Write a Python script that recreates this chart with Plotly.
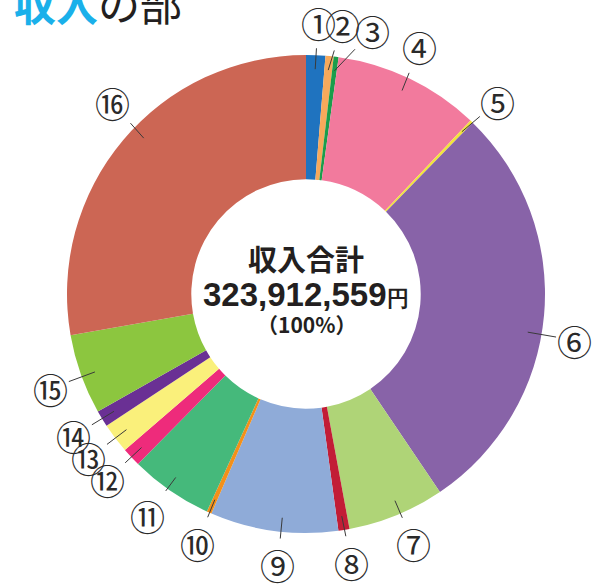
import math
import plotly.graph_objects as go

# ---- data ----
labels = ["①", "②", "③", "④", "⑤", "⑥", "⑦", "⑧",
          "⑨", "⑩", "⑪", "⑫", "⑬", "⑭", "⑮", "⑯"]
shares = [1.30, 0.55, 0.33, 9.90, 0.20, 28.25, 6.55, 0.75,
          8.64, 0.33, 5.60, 1.28, 2.03, 1.11, 5.42, 27.75]
total_text = "323,912,559"

# ---- styles ----
colors = ["#1f73bf", "#f6a95b", "#1a9d4b", "#f27a9d", "#f2e43c", "#8863a8",
          "#afd477", "#c21d36", "#8fabd8", "#f39019", "#45b97b", "#ee2b7b",
          "#faf07b", "#6a3094", "#8cc63f", "#cc6654"]
label_nudge = [0.2, 2.0, 7.0, -1.0, 1.0, 4.7, -1.0, -0.4,
               -1.8, -0.3, 1.0, 0.0, 0.0, 0.0, -0.6, 4.6]
tail_nudge = [0, 0, 0, -0.4, 0, 4.7, -1.0, 0,
              -1.7, 0, 0.8, 0, 0, 0, -0.6, 3.8]

W, H = 604, 584
cx, cy, R = 306, 294, 239
r_tail, r_lab = 225, 272
FONT = "Noto Sans CJK JP"
DARK = "#231f20"

fig = go.Figure(go.Pie(
    values=shares, labels=labels, sort=False, direction="clockwise",
    rotation=0, hole=0.48, textinfo="none", hoverinfo="label+percent",
    marker=dict(colors=colors, line=dict(width=0)),
    domain=dict(x=[(cx - R) / W, (cx + R) / W],
                y=[1 - (cy + R) / H, 1 - (cy - R) / H]),
    showlegend=False,
))

total = sum(shares)
cum = 0.0
annotations = []
for i, (lab, v) in enumerate(zip(labels, shares)):
    mid = (cum + v / 2) / total * 360
    cum += v
    ta = math.radians(mid + tail_nudge[i])
    la = math.radians(mid + label_nudge[i])
    tx, ty = cx + r_tail * math.sin(ta), cy - r_tail * math.cos(ta)
    lx, ly = cx + r_lab * math.sin(la), cy - r_lab * math.cos(la)
    annotations.append(dict(
        x=tx / W, y=1 - ty / H, xref="paper", yref="paper",
        text=lab, showarrow=True, arrowhead=0, arrowwidth=1,
        arrowcolor="#3a3a3a", ax=lx - tx, ay=ly - ty, standoff=0,
        font=dict(family=FONT, size=35, color="#2a2a2a"),
        borderpad=0,
    ))

# centre text
annotations += [
    dict(x=cx / W, y=1 - 258 / H, xref="paper", yref="paper", showarrow=False,
         text="<b>収入合計</b>", font=dict(family=FONT, size=29, color=DARK)),
    dict(x=cx / W, y=1 - 294 / H, xref="paper", yref="paper", showarrow=False,
         text="<b>" + total_text + "</b><b><span style='font-size:22px'>円</span></b>",
         font=dict(family="Liberation Sans", size=33, color=DARK)),
    dict(x=cx / W, y=1 - 324 / H, xref="paper", yref="paper", showarrow=False,
         text="<b>（100%）</b>", font=dict(family=FONT, size=21, color=DARK)),
    dict(x=12 / W, y=1 - 3 / H, xref="paper", yref="paper", showarrow=False,
         xanchor="left", yanchor="middle",
         text="<b><span style='color:#1ab0ea'>収入</span></b><span style='color:#231f20'>の部</span>",
         font=dict(family=FONT, size=42)),
]

fig.update_layout(
    width=W, height=H, margin=dict(l=0, r=0, t=0, b=0),
    paper_bgcolor="white", plot_bgcolor="white",
    annotations=annotations,
)
fig.write_html("out.html", config={"displayModeBar": False},
               post_script="document.body.style.margin='0';document.body.style.overflow='hidden';")
